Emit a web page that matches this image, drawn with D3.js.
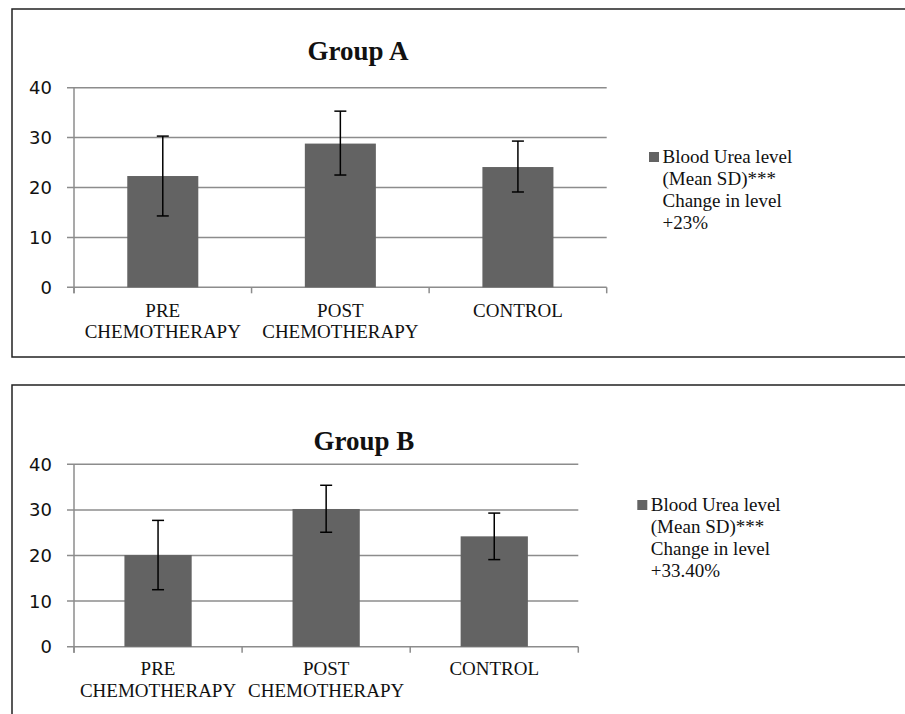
<!DOCTYPE html>
<html><head><meta charset="utf-8">
<script src="https://cdn.jsdelivr.net/npm/d3@7"></script>
<style>body{margin:0;background:#fff}svg{display:block}</style>
</head><body>
<svg id="c" width="905" height="714"></svg>
<script>
const categories = ["PRE\nCHEMOTHERAPY", "POST\nCHEMOTHERAPY", "CONTROL"];
const yTicks = [0, 10, 20, 30, 40];
const groupATitle = "Group A";
const groupAMeans = [22.3, 28.8, 24.1];
const groupAErrHigh = [30.3, 35.3, 29.3];
const groupAErrLow = [14.3, 22.5, 19.1];
const groupALegend = ["Blood Urea level", "(Mean SD)***", "Change in level", "+23%"];
const groupBTitle = "Group B";
const groupBMeans = [20.1, 30.2, 24.2];
const groupBErrHigh = [27.7, 35.4, 29.3];
const groupBErrLow = [12.5, 25.1, 19.1];
const groupBLegend = ["Blood Urea level", "(Mean SD)***", "Change in level", "+33.40%"];

const svg = d3.select("#c");
const serif = "'Liberation Serif','Times New Roman',serif";
const sans = "'DejaVu Sans',sans-serif";
const barColor = "#636363";
const gridColor = "#8c8c8c";

function panel(cfg) {
  svg.append("rect").attr("x", cfg.box[0]).attr("y", cfg.box[1])
    .attr("width", cfg.box[2]).attr("height", cfg.box[3])
    .attr("fill", "none").attr("stroke", "#222").attr("stroke-width", 1.5);

  const x = d3.scaleBand().domain(categories).range([cfg.x0, cfg.x1]).paddingInner(0.6).paddingOuter(0.3);
  const y = d3.scaleLinear().domain([0, 40]).range([cfg.y0, cfg.y40]);
  const g = svg.append("g");

  g.selectAll(".grid").data(yTicks).join("line")
    .attr("x1", cfg.x0 - 7).attr("x2", cfg.x1)
    .attr("y1", d => y(d)).attr("y2", d => y(d))
    .attr("stroke", gridColor).attr("stroke-width", 1.5);
  g.append("line").attr("x1", cfg.x0).attr("x2", cfg.x0)
    .attr("y1", y(40)).attr("y2", y(0) + 6).attr("stroke", gridColor).attr("stroke-width", 1.5);
  const bounds = categories.map(c => x(c) - x.step() * x.paddingInner() / 2).concat([cfg.x1]);
  bounds[0] = cfg.x0;
  g.selectAll(".ct").data(bounds).join("line")
    .attr("x1", d => d).attr("x2", d => d)
    .attr("y1", y(0)).attr("y2", y(0) + 6)
    .attr("stroke", gridColor).attr("stroke-width", 1.5);

  g.selectAll(".yl").data(yTicks).join("text")
    .attr("x", cfg.x0 - 22).attr("y", d => y(d)).attr("dy", "0.36em")
    .attr("text-anchor", "end").attr("font-family", sans).attr("font-size", 18)
    .attr("fill", "#111").text(d => d);

  g.selectAll(".bar").data(cfg.means).join("rect")
    .attr("x", (d, i) => x(categories[i])).attr("width", x.bandwidth())
    .attr("y", d => y(d)).attr("height", d => y(0) - y(d))
    .attr("fill", barColor);

  cfg.means.forEach((m, i) => {
    const cx = x(categories[i]) + x.bandwidth() / 2;
    const hi = y(cfg.hi[i]), lo = y(cfg.lo[i]);
    g.append("line").attr("x1", cx).attr("x2", cx).attr("y1", hi).attr("y2", lo)
      .attr("stroke", "#000").attr("stroke-width", 1.5);
    [hi, lo].forEach(yy => g.append("line").attr("x1", cx - 6).attr("x2", cx + 6)
      .attr("y1", yy).attr("y2", yy).attr("stroke", "#000").attr("stroke-width", 1.5));
  });

  categories.forEach(c => {
    const cx = x(c) + x.bandwidth() / 2;
    const t = g.append("text").attr("text-anchor", "middle")
      .attr("font-family", serif).attr("font-size", 19).attr("fill", "#111");
    c.split("\n").forEach((ln, k) => t.append("tspan").attr("x", cx)
      .attr("y", y(0) + cfg.labY + k * cfg.labDy).text(ln));
  });

  g.append("text").attr("x", cfg.titleX).attr("y", cfg.titleY).attr("text-anchor", "middle")
    .attr("font-family", serif).attr("font-weight", "bold").attr("font-size", 27)
    .attr("fill", "#111").text(cfg.title);

  g.append("rect").attr("x", cfg.legX).attr("y", cfg.legY - 5).attr("width", 10).attr("height", 10)
    .attr("fill", barColor);
  const lt = g.append("text").attr("font-family", serif).attr("font-size", 19).attr("fill", "#111");
  cfg.legend.forEach((ln, k) => lt.append("tspan").attr("x", cfg.legX + 13.5)
    .attr("y", cfg.legY + k * 22).attr("dy", "0.33em").text(ln));
}

panel({box: [12, 9, 905, 348], x0: 74, x1: 606.7, y0: 287.3, y40: 87.7,
  means: groupAMeans, hi: groupAErrHigh, lo: groupAErrLow, title: groupATitle,
  titleX: 358, titleY: 60, legend: groupALegend, legX: 649, legY: 157, labY: 29.5, labDy: 21});
panel({box: [12, 385, 905, 340], x0: 74, x1: 578.3, y0: 646.7, y40: 464.3,
  means: groupBMeans, hi: groupBErrHigh, lo: groupBErrLow, title: groupBTitle,
  titleX: 364, titleY: 450, legend: groupBLegend, legX: 637.3, legY: 505, labY: 28.7, labDy: 21.5});
</script>
</body></html>
